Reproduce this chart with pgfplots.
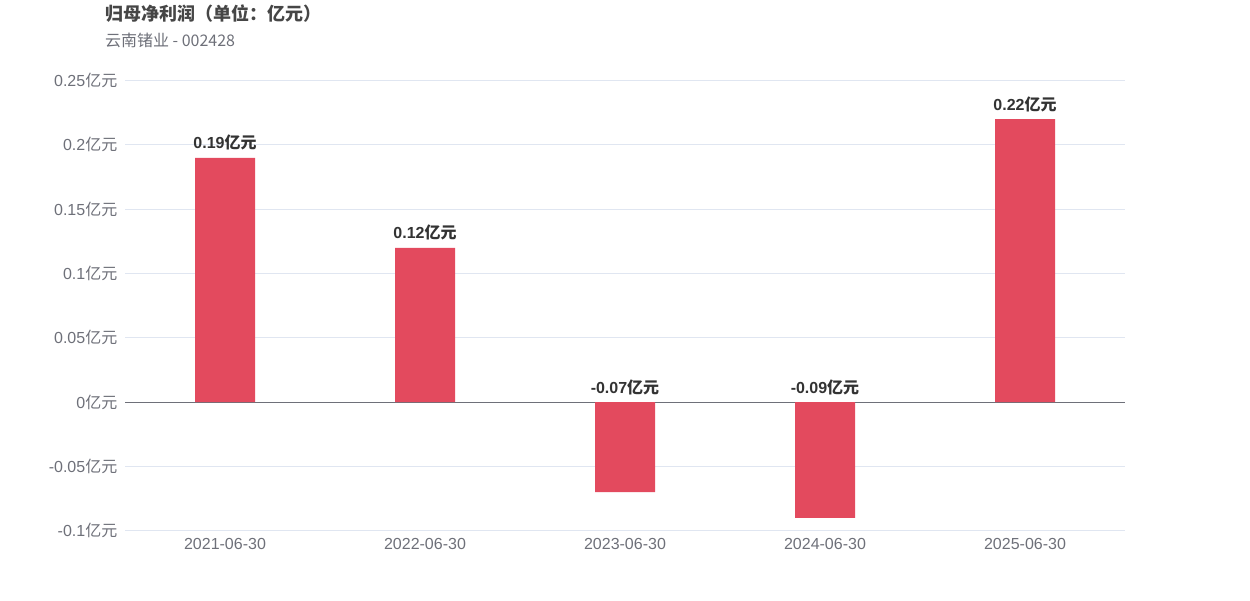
\documentclass[border=0pt]{standalone}
\usepackage{pgfplots}
\pgfplotsset{compat=1.18}
\usepackage{fontspec}
\setmainfont{Liberation Sans}
\newfontfamily\cjk{Noto Sans CJK SC}

\definecolor{barred}{HTML}{E34A5E}
\definecolor{ticktext}{HTML}{6E7079}
\definecolor{gridc}{HTML}{E0E6F1}
\definecolor{titlec}{HTML}{464646}
\definecolor{labelc}{HTML}{333333}

\newcommand{\yy}{\cjk{亿元}}

\begin{document}
\begin{tikzpicture}
  % page frame 1250x600 px at 0.75pt per px
  \path (0pt,0pt) rectangle (937.5pt,450pt);
  \node[anchor=west, text=titlec, font=\fontsize{13.5}{15}\selectfont\bfseries] at (75.25pt,440.5pt) {\cjk{归母净利润（单位：亿元）}};
  \node[anchor=west, text=ticktext, font=\fontsize{12}{14}\selectfont] at (75.25pt,420.5pt) {\cjk{云南锗业} - 002428};
  \begin{axis}[
    at={(93.75pt,52.5pt)}, anchor=south west,
    scale only axis,
    width=750pt, height=337.5pt,
    xmin=-0.5, xmax=4.5,
    ymin=-0.1, ymax=0.25,
    axis line style={draw=none},
    major tick style={draw=none},
    xtick={0,1,2,3,4},
    xticklabels={2021-06-30,2022-06-30,2023-06-30,2024-06-30,2025-06-30},
    ytick={-0.1,-0.05,0,0.05,0.1,0.15,0.2,0.25},
    yticklabels={-0.1\yy,-0.05\yy,0\yy,0.05\yy,0.1\yy,0.15\yy,0.2\yy,0.25\yy},
    ymajorgrids,
    grid style={gridc, line width=0.75pt},
    extra y ticks={0},
    extra y tick labels={},
    extra y tick style={grid style={ticktext, line width=0.75pt}},
    tick label style={text=ticktext, font=\fontsize{12}{14}\selectfont},
    xticklabel style={yshift=-2.5pt},
    yticklabel style={xshift=-2.25pt},
    clip=false,
  ]
    \addplot[ybar, bar width=45pt, fill=barred, draw=none] coordinates {
      (0,0.19) (1,0.12) (2,-0.07) (3,-0.09) (4,0.22)
    };
    \addplot[draw=none, mark=none, nodes near coords, point meta=explicit symbolic,
      every node near coord/.style={text=labelc, font=\fontsize{12}{14}\selectfont\bfseries, anchor=south, yshift=2pt}]
      coordinates {
      (0,0.19) [0.19\yy]
      (1,0.12) [0.12\yy]
      (2,0) [-0.07\yy]
      (3,0) [-0.09\yy]
      (4,0.22) [0.22\yy]
    };
  \end{axis}
\end{tikzpicture}
\end{document}
